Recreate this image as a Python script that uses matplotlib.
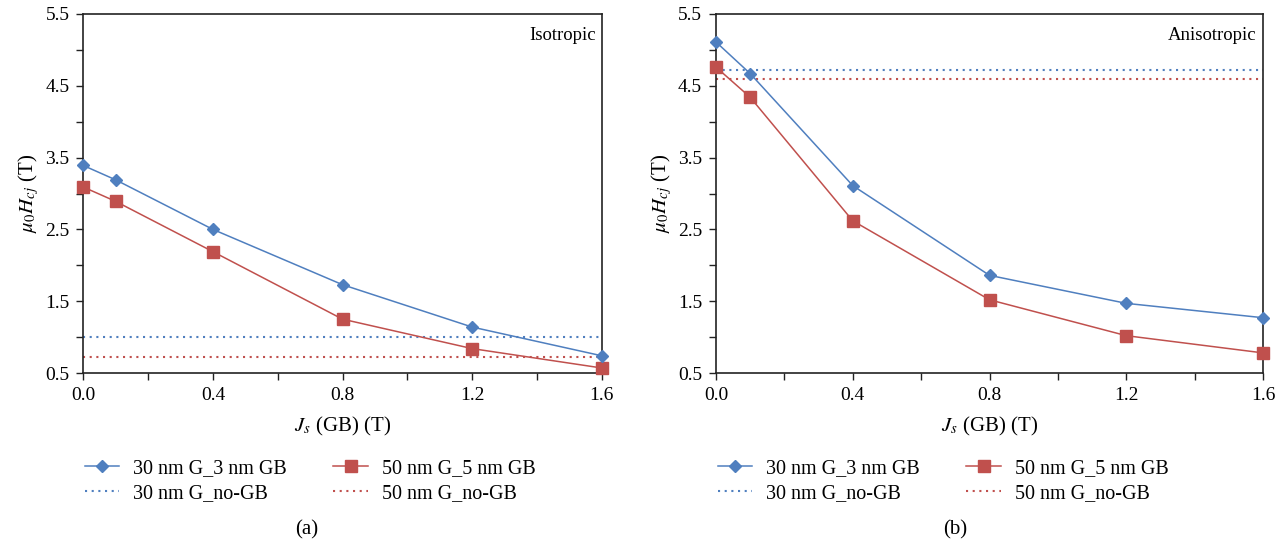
import matplotlib.pyplot as plt
from matplotlib.ticker import MultipleLocator

# data
js = [0.0, 0.1, 0.4, 0.8, 1.2, 1.6]
iso_30nm = [3.39, 3.19, 2.50, 1.73, 1.14, 0.74]
iso_50nm = [3.09, 2.89, 2.19, 1.25, 0.84, 0.57]
iso_30nm_nogb = 1.00
iso_50nm_nogb = 0.72
aniso_30nm = [5.11, 4.67, 3.11, 1.86, 1.47, 1.27]
aniso_50nm = [4.76, 4.34, 2.62, 1.52, 1.02, 0.78]
aniso_30nm_nogb = 4.72
aniso_50nm_nogb = 4.60

labels = ["30 nm G_3 nm GB", "30 nm G_no-GB", "50 nm G_5 nm GB", "50 nm G_no-GB"]
blue = "#4F7FBF"
red = "#C0504D"

plt.rcParams['font.family'] = ['Liberation Serif', 'DejaVu Serif']
plt.rcParams['mathtext.fontset'] = 'stix'
plt.rcParams['font.size'] = 13

fig = plt.figure(figsize=(12.88, 5.48), dpi=100)
ax_a = fig.add_axes([83.3 / 1288, 175 / 548, 518.4 / 1288, 359 / 548])
ax_b = fig.add_axes([716 / 1288, 175 / 548, 547 / 1288, 359 / 548])


def draw_panel(ax, y30, y50, n30, n50, tag):
    l1, = ax.plot(js, y30, color=blue, lw=1.1, marker="D", ms=6, mec=blue, mfc=blue,
                  clip_on=False, zorder=4)
    l3, = ax.plot(js, y50, color=red, lw=1.1, marker="s", ms=8, mec=red, mfc=red,
                  clip_on=False, zorder=3)
    l2 = ax.axhline(n30, color=blue, lw=1.5, ls=(0, (1, 2.2)))
    l4 = ax.axhline(n50, color=red, lw=1.5, ls=(0, (1, 2.2)))
    ax.set_xlim(0, 1.6)
    ax.set_ylim(0.5, 5.5)
    ax.xaxis.set_minor_locator(MultipleLocator(0.2))
    ax.yaxis.set_minor_locator(MultipleLocator(0.5))
    ax.set_xticks([0.0, 0.4, 0.8, 1.2, 1.6])
    ax.set_yticks([0.5, 1.5, 2.5, 3.5, 4.5, 5.5])
    ax.xaxis.set_major_formatter(plt.FormatStrFormatter("%.1f"))
    ax.yaxis.set_major_formatter(plt.FormatStrFormatter("%.1f"))
    ax.tick_params(which="both", direction="out", length=5, width=1.0, color="#222222",
                   labelsize=14)
    ax.tick_params(axis="x", pad=5)
    ax.tick_params(axis="y", pad=5)
    for s in ax.spines.values():
        s.set_linewidth(1.2)
        s.set_color("#222222")
    ax.set_xlabel(r"$J_s$ (GB) (T)", fontsize=15, labelpad=8)
    ax.set_ylabel(r"$\mu_0 H_{cj}$ (T)", fontsize=15, labelpad=3)
    ax.text(0.988, 0.965, tag, transform=ax.transAxes, ha="right", va="top", fontsize=13.5)
    return [l1, l2, l3, l4]


h_a = draw_panel(ax_a, iso_30nm, iso_50nm, iso_30nm_nogb, iso_50nm_nogb, "Isotropic")
h_b = draw_panel(ax_b, aniso_30nm, aniso_50nm, aniso_30nm_nogb, aniso_50nm_nogb, "Anisotropic")

for h, x0 in [(h_a, 85 / 1288), (h_b, 718 / 1288)]:
    fig.legend(h, labels, ncol=2, loc="upper left", bbox_to_anchor=(x0, 0.162),
               frameon=False, borderpad=0, borderaxespad=0, fontsize=14.5,
               handlelength=1.7, handletextpad=0.7, columnspacing=2.3, labelspacing=0.3)

fig.text(307 / 1288, 1 - 530 / 548, "(a)", ha="center", va="center", fontsize=15)
fig.text(955 / 1288, 1 - 530 / 548, "(b)", ha="center", va="center", fontsize=15)

fig.savefig("out.png", dpi=100)
